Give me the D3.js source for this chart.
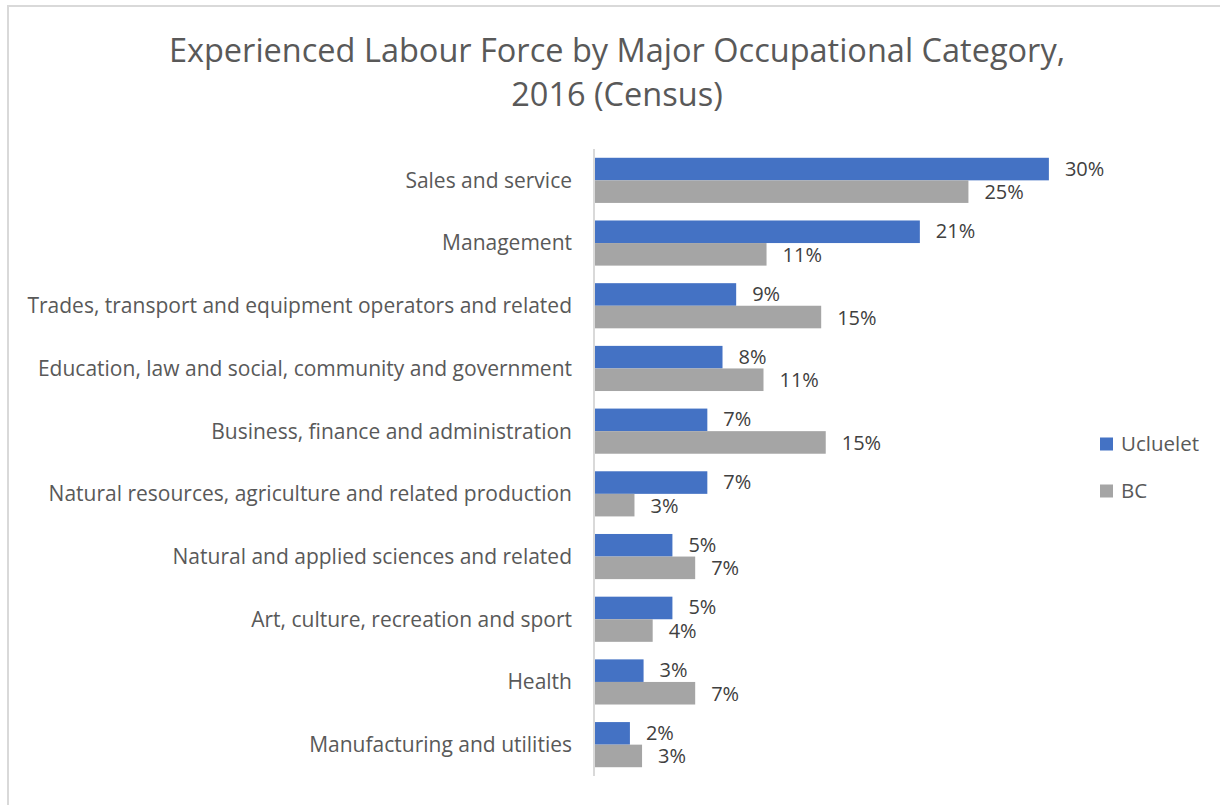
<!DOCTYPE html>
<html>
<head>
<meta charset="utf-8">
<script src="https://cdn.jsdelivr.net/npm/d3@7"></script>
<style>
  html, body { margin: 0; padding: 0; background: #fff; }
  svg { display: block; }
  text { font-family: "Open Sans", Lato, sans-serif; }
</style>
</head>
<body>
<svg id="chart" width="1220" height="805"></svg>
<script>
const titleLines = ["Experienced Labour Force by Major Occupational Category,", "2016 (Census)"];
const categories = [
  "Sales and service",
  "Management",
  "Trades, transport and equipment operators and related",
  "Education, law and social, community and government",
  "Business, finance and administration",
  "Natural resources, agriculture and related production",
  "Natural and applied sciences and related",
  "Art, culture, recreation and sport",
  "Health",
  "Manufacturing and utilities"
];
const seriesNames = ["Ucluelet", "BC"];
const ucluelet = [29.9, 21.4, 9.3, 8.4, 7.4, 7.4, 5.1, 5.1, 3.2, 2.3];
const bc = [24.6, 11.3, 14.9, 11.1, 15.2, 2.6, 6.6, 3.8, 6.6, 3.1];
const colors = ["#4472C4", "#A5A5A5"];

const svg = d3.select("#chart");

// outer chart border (top and left visible)
svg.append("line").attr("x1", 7).attr("x2", 1220).attr("y1", 6).attr("y2", 6)
  .attr("stroke", "#d9d9d9").attr("stroke-width", 2);
svg.append("line").attr("x1", 8).attr("x2", 8).attr("y1", 5).attr("y2", 805)
  .attr("stroke", "#d9d9d9").attr("stroke-width", 2);

// title
svg.append("text").attr("x", 617).attr("y", 62).attr("text-anchor", "middle")
  .attr("font-size", 32.5).attr("fill", "#595959")
  .selectAll("tspan").data(titleLines).join("tspan")
  .attr("x", 617).attr("dy", (d, i) => i === 0 ? 0 : 44).text(d => d);

const x = d3.scaleLinear().domain([0, 35]).range([595, 595 + 35 * 15.18]);
const y = d3.scaleBand().domain(categories).range([149, 776]).paddingInner(0.28).paddingOuter(0.14);
const ySub = d3.scaleBand().domain(seriesNames).range([0, y.bandwidth()]);

// axis line
svg.append("line").attr("x1", x(0) - 1).attr("x2", x(0) - 1).attr("y1", 149).attr("y2", 776)
  .attr("stroke", "#d9d9d9").attr("stroke-width", 2);

// category labels
svg.append("g").selectAll("text").data(categories).join("text")
  .attr("x", 572).attr("y", d => y(d) + y.bandwidth() / 2)
  .attr("dy", "0.35em").attr("text-anchor", "end")
  .attr("font-size", 21).attr("fill", "#595959").text(d => d);

const series = [ucluelet, bc];
series.forEach((vals, si) => {
  const g = svg.append("g");
  g.selectAll("rect").data(vals).join("rect")
    .attr("x", x(0))
    .attr("y", (d, i) => y(categories[i]) + ySub(seriesNames[si]))
    .attr("width", d => x(d) - x(0))
    .attr("height", ySub.bandwidth())
    .attr("fill", colors[si]);
  g.selectAll("text").data(vals).join("text")
    .attr("x", d => x(d) + 16)
    .attr("y", (d, i) => y(categories[i]) + ySub(seriesNames[si]) + ySub.bandwidth() / 2 + (si === 0 ? -0.5 : 0.5))
    .attr("dy", "0.35em")
    .attr("font-size", 20).attr("fill", "#404040")
    .text(d => Math.round(d) + "%");
});

// legend
const legend = svg.append("g");
seriesNames.forEach((name, i) => {
  const cy = 444 + i * 47;
  legend.append("rect").attr("x", 1100).attr("y", cy - 6.5).attr("width", 13).attr("height", 13)
    .attr("fill", colors[i]);
  legend.append("text").attr("x", 1121).attr("y", cy).attr("dy", "0.35em")
    .attr("font-size", 20.5).attr("fill", "#595959").text(name);
});
</script>
</body>
</html>
